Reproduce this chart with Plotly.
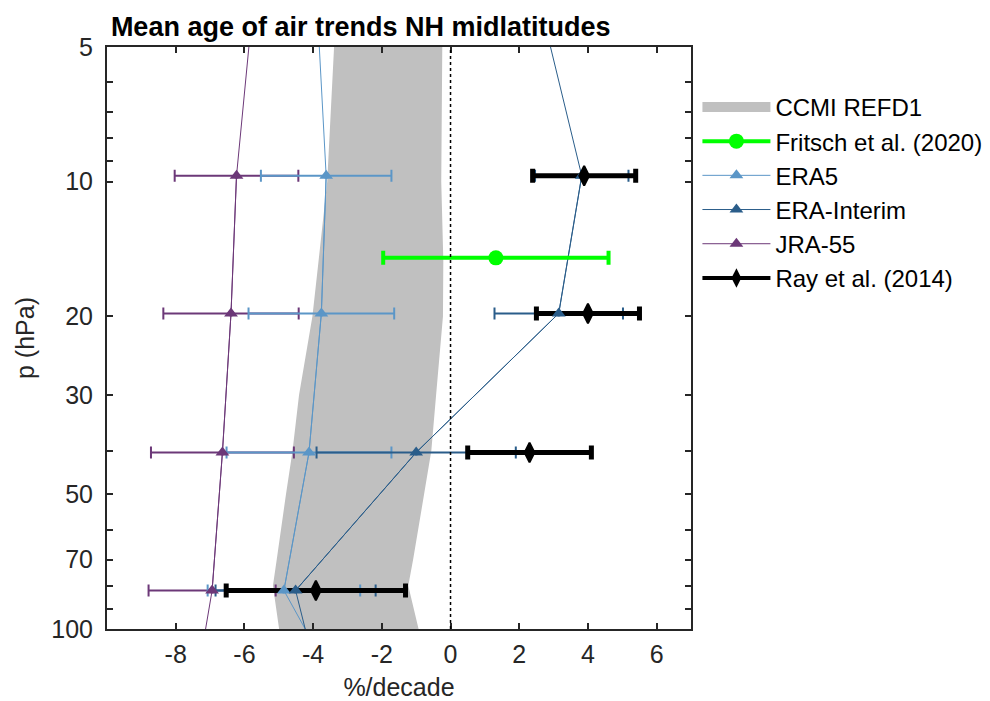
import plotly.graph_objects as go

# ---------------- data ----------------
levels = [9.7, 19.7, 40.3, 82.0]                 # hPa, levels with error bars
profile_p = [5, 9.7, 19.7, 40.3, 82.0, 100]      # hPa, profile lines

jra55_trend = [-6.23, -6.39, -6.64, -6.94]
jra55_err = [1.80, 1.97, 2.08, 1.85]
jra55_profile = [-5.87, -6.23, -6.39, -6.64, -6.94, -7.13]

era5_trend = [-3.62, -3.76, -4.12, -4.85]
era5_err = [1.90, 2.12, 2.40, 2.22]
era5_profile = [-3.82, -3.62, -3.76, -4.12, -4.85, -4.23]

erai_trend = [3.82, 3.15, -1.00, -4.51]
erai_err = [1.36, 1.87, 2.90, 2.33]
erai_profile = [2.91, 3.82, 3.15, -1.00, -4.51, -4.23]

ray_p = [9.7, 19.7, 40.3, 82.0]
ray_trend = [3.89, 4.00, 2.30, -3.92]
ray_err = [1.50, 1.50, 1.80, 2.61]

fritsch_p = [14.8]
fritsch_trend = [1.32]
fritsch_err = [3.28]

ccmi_p = [5, 10, 15, 20, 30, 40, 50, 70, 80, 100]
ccmi_low = [-3.39, -3.59, -3.84, -4.02, -4.41, -4.60, -4.79, -5.06, -5.17, -4.99]
ccmi_high = [-0.24, -0.27, -0.21, -0.22, -0.42, -0.56, -0.77, -1.09, -1.23, -0.93]

zero_ref = 0
x_ticks = [-8, -6, -4, -2, 0, 2, 4, 6]
y_ticks = [5, 6, 7, 8, 9, 10, 20, 30, 40, 50, 60, 70, 80, 90, 100]
y_ticklabels = ['5', '', '', '', '', '10', '20', '30', '', '50', '', '70', '', '', '100']

# ---------------- style ----------------
FONT = "Liberation Sans, Arial, Helvetica, sans-serif"
C_GRAY = "#c0c0c0"
C_ERA5 = "#5b96c7"
C_ERAI = "#2a5d8a"
C_JRA = "#6c3878"
C_FRITSCH = "#00ff00"
C_AX = "#262626"

fig = go.Figure()

# CCMI band
fig.add_trace(go.Scatter(
    x=ccmi_low + ccmi_high[::-1], y=ccmi_p + ccmi_p[::-1],
    mode="none", fill="toself", fillcolor=C_GRAY,
    showlegend=False, legendgroup="ccmi", hoverinfo="skip"))
fig.add_trace(go.Scatter(
    x=[None], y=[None], mode="lines", line=dict(color=C_GRAY, width=10),
    name="CCMI REFD1", legendgroup="ccmi", legendrank=1))

reanalyses = [
    (jra55_trend, jra55_err, jra55_profile, C_JRA, "JRA-55", 5),
    (era5_trend, era5_err, era5_profile, C_ERA5, "ERA5", 3),
    (erai_trend, erai_err, erai_profile, C_ERAI, "ERA-Interim", 4),
]

# profile lines
for trend, err, prof, color, name, rank in reanalyses:
    fig.add_trace(go.Scatter(
        x=prof, y=profile_p, mode="lines",
        line=dict(color=color, width=1),
        showlegend=False, legendgroup=name, hoverinfo="skip"))

# reanalysis error bars
for trend, err, prof, color, name, rank in reanalyses:
    fig.add_trace(go.Scatter(
        x=trend, y=levels, mode="markers",
        marker=dict(size=0, color=color),
        error_x=dict(type="data", array=err, color=color, thickness=2, width=6),
        showlegend=False, legendgroup=name, hoverinfo="skip"))

# Ray et al. (2014) error bars
fig.add_trace(go.Scatter(
    x=ray_trend, y=ray_p, mode="markers",
    marker=dict(size=0, color="black"),
    error_x=dict(type="data", array=ray_err, color="black", thickness=5, width=7),
    showlegend=False, legendgroup="ray", hoverinfo="skip"))

# reanalysis markers
for trend, err, prof, color, name, rank in reanalyses:
    fig.add_trace(go.Scatter(
        x=trend, y=levels, mode="lines+markers",
        line=dict(color=color, width=1),
        marker=dict(symbol="triangle-up", size=12, color=color),
        name=name, legendgroup=name, legendrank=rank))

# Fritsch et al. (2020)
fig.add_trace(go.Scatter(
    x=fritsch_trend, y=fritsch_p, mode="lines+markers",
    line=dict(color=C_FRITSCH, width=4),
    marker=dict(symbol="circle", size=15, color=C_FRITSCH),
    error_x=dict(type="data", array=fritsch_err, color=C_FRITSCH, thickness=4, width=7),
    name="Fritsch et al. (2020)", legendrank=2))

# Ray et al. (2014) markers
fig.add_trace(go.Scatter(
    x=ray_trend, y=ray_p, mode="markers",
    marker=dict(symbol="diamond-tall", size=14, color="black",
                line=dict(color="black", width=2)),
    showlegend=False, legendgroup="ray"))
fig.add_trace(go.Scatter(
    x=[None], y=[None], mode="lines+markers",
    line=dict(color="black", width=4),
    marker=dict(symbol="diamond-tall", size=14, color="black"),
    name="Ray et al. (2014)", legendgroup="ray", legendrank=6))

# zero reference line
fig.add_shape(type="line", xref="x", yref="paper", x0=zero_ref, x1=zero_ref,
              y0=0, y1=1, line=dict(color="black", width=1.5, dash="dot"),
              layer="above")

fig.update_layout(
    width=990, height=701,
    margin=dict(l=107, r=299, t=47, b=72, autoexpand=False),
    paper_bgcolor="white", plot_bgcolor="white",
    font=dict(family=FONT, size=25, color=C_AX),
    title=dict(text="<b>Mean age of air trends NH midlatitudes</b>",
               font=dict(family=FONT, size=27, color="black"),
               x=0.112, xref="container", xanchor="left",
               y=0.962, yref="container", yanchor="middle"),
    showlegend=True,
    legend=dict(x=1.011, y=0.935, xanchor="left", yanchor="top",
                font=dict(family=FONT, size=24, color="black"),
                bgcolor="rgba(0,0,0,0)", borderwidth=0,
                itemwidth=68, tracegroupgap=0, traceorder="normal"),
)

fig.update_xaxes(
    range=[-10, 7], tickvals=x_ticks, ticktext=[str(v) for v in x_ticks],
    ticks="inside", ticklen=6, tickwidth=2, tickcolor=C_AX,
    showline=True, linecolor=C_AX, linewidth=2, mirror="allticks",
    showgrid=False, zeroline=False, ticklabelstandoff=2,
    title=dict(text="%/decade", standoff=17, font=dict(size=25, color=C_AX)),
)
fig.update_yaxes(
    type="log", range=[2, 0.69897], tickvals=y_ticks, ticktext=y_ticklabels,
    ticks="inside", ticklen=6, tickwidth=2, tickcolor=C_AX,
    showline=True, linecolor=C_AX, linewidth=2, mirror="allticks",
    showgrid=False, zeroline=False, ticklabelstandoff=7,
    title=dict(text="p (hPa)", standoff=10, font=dict(size=25, color=C_AX)),
)

fig.write_html("out.html", config={"displayModeBar": False},
               post_script="document.body.style.margin='0';document.body.style.overflow='hidden';")
